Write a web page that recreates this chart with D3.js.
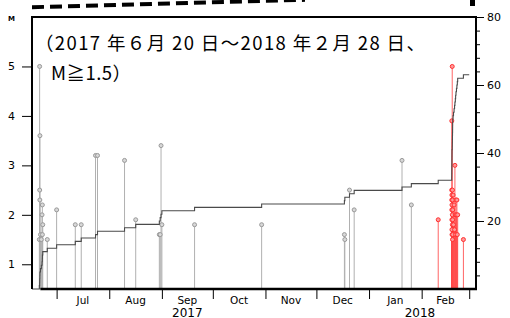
<!DOCTYPE html>
<html>
<head>
<meta charset="utf-8">
<script src="https://cdn.jsdelivr.net/npm/d3@7"></script>
<style>
body { margin: 0; background: #fff; }
svg { display: block; }
</style>
</head>
<body>
<div id="chart"></div>
<script>
// earthquake times (JST) and magnitudes, M>=1.5
var eventTimes = [
    "2017-06-20 20:00", "2017-06-21 00:00", "2017-06-21 01:00", "2017-06-21 03:00", "2017-06-21 04:00",
    "2017-06-21 12:00", "2017-06-22 00:00", "2017-06-22 10:00", "2017-06-22 14:00", "2017-06-22 15:00",
    "2017-06-22 20:00", "2017-06-25 12:00", "2017-07-01 00:00", "2017-07-12 00:00", "2017-07-15 12:00",
    "2017-07-23 22:00", "2017-07-25 02:00", "2017-08-10 00:00", "2017-08-16 14:00", "2017-08-30 12:00",
    "2017-08-31 00:00", "2017-08-31 12:00", "2017-09-01 00:00", "2017-09-20 06:00", "2017-10-29 18:00",
    "2017-12-17 12:00", "2017-12-17 18:00", "2017-12-20 12:00", "2017-12-23 06:00", "2018-01-20 10:00",
    "2018-01-25 22:00",
    "2018-02-10 18:00",
    "2018-02-18 17:00", "2018-02-18 17:30", "2018-02-18 18:00", "2018-02-18 18:30", "2018-02-18 19:00",
    "2018-02-18 19:30", "2018-02-18 20:00", "2018-02-18 20:30", "2018-02-18 21:00", "2018-02-19 00:00",
    "2018-02-19 01:00", "2018-02-19 02:00", "2018-02-19 03:00", "2018-02-19 04:00", "2018-02-19 05:00",
    "2018-02-19 05:30", "2018-02-19 06:00", "2018-02-19 07:00",
    "2018-02-19 12:00", "2018-02-19 18:00", "2018-02-20 02:00", "2018-02-20 09:00", "2018-02-20 14:00",
    "2018-02-20 20:00", "2018-02-21 00:00", "2018-02-21 05:00",
    "2018-02-21 12:00", "2018-02-21 18:00", "2018-02-22 00:00", "2018-02-22 05:00",
    "2018-02-25 14:00"
];
var eventMags = [
    1.5, 5.0, 2.5, 2.3, 3.6,
    1.6, 1.5, 2.0, 2.2, 1.6,
    1.8, 1.5, 2.1, 1.8, 1.8,
    3.2, 3.2, 3.1, 1.9, 1.6,
    1.6, 3.4, 1.8, 1.8, 1.8,
    1.6, 1.5, 2.5, 2.1, 3.1,
    2.2,
    1.9,
    2.5, 2.3, 3.9, 2.1, 1.9,
    2.4, 1.7, 2.2, 1.6, 5.0,
    2.0, 1.8, 2.5, 1.5, 2.3,
    1.9, 1.6, 2.1,
    2.4, 1.8, 2.2, 1.7, 3.0,
    2.0, 1.6, 2.3,
    2.0, 2.3, 1.6, 2.0,
    1.5
];

// events from this date on are drawn in red
var highlightFrom = "2018-02-01 00:00";
var periodEnd = "2018-03-01 00:00";
var axisStart = "2017-06-16 12:00";
var axisEnd = "2018-03-05 00:00";

var magTicks = [1, 2, 3, 4, 5];
var countTicks = [20, 40, 60, 80];
var countMinorTicks = [4, 8, 12, 16, 24, 28, 32, 36, 44, 48, 52, 56, 64, 68, 72, 76];
var monthLabels = ["Jul", "Aug", "Sep", "Oct", "Nov", "Dec", "Jan", "Feb"];
var yearLabels = ["2017", "2018"];
var yearLabelAt = ["2017-09-16 00:00", "2018-01-31 00:00"];

var titleLine1 = "（2017 年６月 20 日～2018 年２月 28 日、";
var titleLine2 = "M≧1.5）";

var parse = d3.timeParse("%Y-%m-%d %H:%M");

var events = eventTimes.map(function (t, i) {
    return { time: parse(t), mag: eventMags[i] };
});
events.sort(function (a, b) { return a.time - b.time; });
var redFrom = parse(highlightFrom);

//margins
var margin = { top: 17, right: 34, bottom: 29, left: 32 };
var width = 510 - margin.left - margin.right;
var height = 318 - margin.top - margin.bottom;

var xScale = d3.scaleTime()
    .domain([parse(axisStart), parse(axisEnd)])
    .range([0, width]);

var yMag = d3.scaleLinear()
    .domain([0.5, 6])
    .range([height, 0]);

var yCount = d3.scaleLinear()
    .domain([0, 80])
    .range([height, 0]);

var root = d3.select("#chart")
    .append("svg")
    .attr("width", 510)
    .attr("height", 318);

// piece of the dashed callout line above the plot
root.append("line")
    .attr("x1", 32).attr("y1", 7.2)
    .attr("x2", 305).attr("y2", -0.2)
    .attr("stroke", "#000")
    .attr("stroke-width", 4)
    .attr("stroke-dasharray", "12,6");
root.append("line")
    .attr("x1", 472.5).attr("y1", 0)
    .attr("x2", 472.5).attr("y2", 6)
    .attr("stroke", "#000")
    .attr("stroke-width", 5);

var svg = root.append("g")
    .attr("transform", "translate(" + margin.left + "," + margin.top + ")");

//stems
var grey = events.filter(function (d) { return d.time < redFrom; });
var red = events.filter(function (d) { return d.time >= redFrom; });

svg.selectAll(".stemGrey")
    .data(grey)
    .enter()
    .append("line")
    .attr("x1", function (d) { return xScale(d.time); })
    .attr("x2", function (d) { return xScale(d.time); })
    .attr("y1", function (d) { return yMag(d.mag); })
    .attr("y2", height)
    .attr("stroke", "#b0b0b0")
    .attr("stroke-width", 1);

svg.selectAll(".stemRed")
    .data(red)
    .enter()
    .append("line")
    .attr("x1", function (d) { return xScale(d.time); })
    .attr("x2", function (d) { return xScale(d.time); })
    .attr("y1", function (d) { return yMag(d.mag); })
    .attr("y2", height)
    .attr("stroke", "#ff4a4a")
    .attr("stroke-opacity", 0.85)
    .attr("stroke-width", 1);

//circles
svg.selectAll(".dotGrey")
    .data(grey)
    .enter()
    .append("circle")
    .attr("cx", function (d) { return xScale(d.time); })
    .attr("cy", function (d) { return yMag(d.mag); })
    .attr("r", 2)
    .attr("fill", "#d8d8d8")
    .attr("stroke", "#999")
    .attr("stroke-width", 1);

svg.selectAll(".dotRed")
    .data(red)
    .enter()
    .append("circle")
    .attr("cx", function (d) { return xScale(d.time); })
    .attr("cy", function (d) { return yMag(d.mag); })
    .attr("r", 2)
    .attr("fill", "#ff9a9a")
    .attr("stroke", "#ff3030")
    .attr("stroke-width", 1);

//cumulative count
var cum = [{ time: parse(axisStart), n: 0 }];
events.forEach(function (d, i) { cum.push({ time: d.time, n: i + 1 }); });
cum.push({ time: parse(periodEnd), n: events.length });

var cumLine = d3.line()
    .x(function (d) { return xScale(d.time); })
    .y(function (d) { return yCount(d.n); })
    .curve(d3.curveStepAfter);

svg.append("path")
    .datum(cum)
    .attr("d", cumLine)
    .attr("fill", "none")
    .attr("stroke", "#4a4a4a")
    .attr("stroke-width", 1.1);

//left axis (M)
var leftAxis = svg.append("g")
    .call(d3.axisLeft(yMag).tickValues(magTicks).tickSize(10).tickPadding(7).tickFormat(d3.format("d")));
leftAxis.select(".domain").remove();
leftAxis.selectAll("text")
    .attr("font-family", "DejaVu Sans")
    .attr("font-size", 11)
    .attr("fill", "#000");

svg.append("text")
    .attr("x", -20.5)
    .attr("y", 3.7)
    .attr("text-anchor", "middle")
    .attr("font-family", "DejaVu Sans")
    .attr("font-weight", "bold")
    .attr("font-size", 7)
    .text("M");

//right axis (count)
var rightMinor = svg.append("g")
    .attr("transform", "translate(" + width + ",0)")
    .call(d3.axisRight(yCount).tickValues(countMinorTicks).tickSize(4).tickFormat(""));
rightMinor.select(".domain").remove();

var rightAxis = svg.append("g")
    .attr("transform", "translate(" + width + ",0)")
    .call(d3.axisRight(yCount).tickValues(countTicks).tickSize(8).tickPadding(3));
rightAxis.select(".domain").remove();
rightAxis.selectAll("text")
    .attr("font-family", "DejaVu Sans")
    .attr("font-size", 11)
    .attr("fill", "#000");

//bottom axis: ticks at month boundaries
var months = d3.timeMonth.range(d3.timeMonth.ceil(xScale.domain()[0]), xScale.domain()[1]);
var bottomAxis = svg.append("g")
    .attr("transform", "translate(0," + height + ")")
    .call(d3.axisBottom(xScale).tickValues(months).tickSize(10).tickFormat(""));
bottomAxis.select(".domain").remove();

//month labels in the middle of each month
svg.selectAll(".monthLabel")
    .data(monthLabels)
    .enter()
    .append("text")
    .attr("x", function (d, i) { return (xScale(months[i]) + xScale(months[i + 1])) / 2; })
    .attr("y", height + 14.5)
    .attr("text-anchor", "middle")
    .attr("font-family", "DejaVu Sans")
    .attr("font-size", 10.5)
    .text(function (d) { return d; });

svg.selectAll(".yearLabel")
    .data(yearLabels)
    .enter()
    .append("text")
    .attr("x", function (d, i) { return xScale(parse(yearLabelAt[i])); })
    .attr("y", height + 27.5)
    .attr("text-anchor", "middle")
    .attr("font-family", "DejaVu Sans")
    .attr("font-size", 12)
    .text(function (d) { return d; });

//frame
svg.append("line")
    .attr("x1", 0).attr("x2", width).attr("y1", 0).attr("y2", 0)
    .attr("stroke", "#000").attr("stroke-width", 2);
svg.append("line")
    .attr("x1", 0).attr("x2", 0).attr("y1", -1).attr("y2", height)
    .attr("stroke", "#000").attr("stroke-width", 2);
svg.append("line")
    .attr("x1", width).attr("x2", width).attr("y1", -1).attr("y2", height + 1)
    .attr("stroke", "#000").attr("stroke-width", 2);
svg.append("line")
    .attr("x1", xScale(events[0].time) + 1).attr("x2", width + 1).attr("y1", height).attr("y2", height)
    .attr("stroke", "#000").attr("stroke-width", 2.5);

//period text
root.append("text")
    .attr("x", 35)
    .attr("y", 50)
    .attr("font-family", "Noto Sans CJK JP")
    .attr("font-size", 18.5)
    .attr("textLength", 390)
    .attr("lengthAdjust", "spacing")
    .text(titleLine1);
root.append("text")
    .attr("x", 51)
    .attr("y", 79.5)
    .attr("font-family", "Noto Sans CJK JP")
    .attr("font-size", 18.5)
    .attr("textLength", 80)
    .attr("lengthAdjust", "spacing")
    .text(titleLine2);
</script>
</body>
</html>
